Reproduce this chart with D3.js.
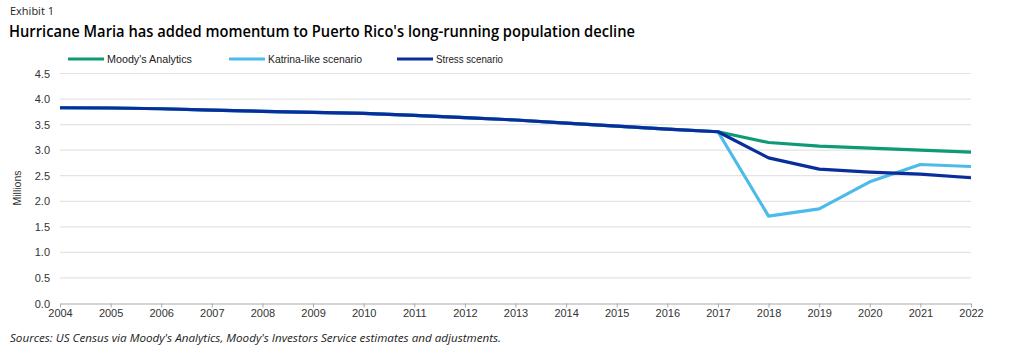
<!DOCTYPE html>
<html><head><meta charset="utf-8">
<script src="https://cdn.jsdelivr.net/npm/d3@7"></script>
<style>
html,body{margin:0;padding:0;background:#fff;}
svg{display:block;}
</style></head>
<body>
<svg id="c" width="1024" height="353"></svg>
<script>
const years = [2004,2005,2006,2007,2008,2009,2010,2011,2012,2013,2014,2015,2016,2017,2018,2019,2020,2021,2022];
const history = [3.83,3.825,3.81,3.785,3.76,3.74,3.72,3.68,3.635,3.59,3.53,3.47,3.41,3.36];
const moodys = [3.15,3.08,3.04,3.00,2.96];
const katrina = [1.71,1.85,2.38,2.72,2.68];
const stress = [2.85,2.63,2.57,2.53,2.46];
const yTicks = [0,0.5,1.0,1.5,2.0,2.5,3.0,3.5,4.0,4.5];
const seriesNames = ["Moody's Analytics","Katrina-like scenario","Stress scenario"];
const colors = ["#0e9a74","#4dbbea","#0a2d9c"];

const svg = d3.select("#c");
const x = d3.scaleLinear().domain([2004,2022]).range([60,971]);
const y = d3.scaleLinear().domain([0,4.5]).range([303.5,73.5]);

// titles
svg.append("text").attr("x",10).attr("y",15).attr("font-family","Open Sans, sans-serif").attr("font-size",11).attr("fill","#222").text("Exhibit 1");
svg.append("text").attr("x",9).attr("y",37).attr("font-family","Open Sans, sans-serif").attr("font-weight",600).attr("font-size",16)
  .attr("textLength",626).attr("lengthAdjust","spacingAndGlyphs").attr("fill","#000")
  .text("Hurricane Maria has added momentum to Puerto Rico's long-running population decline");

// grid
svg.append("g").selectAll("line").data(yTicks.filter(d=>d>0)).join("line")
  .attr("x1",60).attr("x2",971).attr("y1",d=>y(d)).attr("y2",d=>y(d))
  .attr("stroke","#e3e3e3").attr("stroke-width",1.2);

// y labels
svg.append("g").selectAll("text").data(yTicks).join("text")
  .attr("x",50).attr("y",d=>y(d)+4).attr("text-anchor","end")
  .attr("font-family","Liberation Sans, Arial, sans-serif").attr("font-size",11).attr("fill","#333")
  .text(d=>d3.format(".1f")(d));
svg.append("text").attr("transform","translate(21,"+188+") rotate(-90)").attr("text-anchor","middle")
  .attr("font-family","Liberation Sans, Arial, sans-serif").attr("font-size",10.5).attr("fill","#333").text("Millions");

// x axis
const xAxis = d3.axisBottom(x).tickValues(years).tickFormat(d3.format("d")).tickSize(4).tickSizeOuter(0);
const gx = svg.append("g").attr("transform","translate(0,"+y(0)+")").call(xAxis);
gx.select(".domain").attr("stroke","#aaa");
gx.selectAll(".tick line").attr("stroke","#aaa");
gx.selectAll("text").attr("font-family","Liberation Sans, Arial, sans-serif").attr("font-size",11).attr("fill","#333").attr("dy","0.55em");

// lines
const line = d3.line().x(d=>x(d[0])).y(d=>y(d[1]));
const hist = years.slice(0,history.length).map((yr,i)=>[yr,history[i]]);
const fut = years.slice(history.length);
const series = [moodys,katrina,stress].map(v=>hist.concat(fut.map((yr,i)=>[yr,v[i]])));
svg.append("g").selectAll("path").data(series).join("path")
  .attr("d",line).attr("fill","none").attr("stroke",(d,i)=>colors[i]).attr("stroke-width",3.2)
  .attr("stroke-linejoin","round");

// legend
const legX = [68,229,397];
const legW = [85,94,67];
seriesNames.forEach((n,i)=>{
  svg.append("line").attr("x1",legX[i]).attr("x2",legX[i]+36).attr("y1",59).attr("y2",59).attr("stroke",colors[i]).attr("stroke-width",3.2);
  svg.append("text").attr("x",legX[i]+39).attr("y",63).attr("font-family","Liberation Sans, Arial, sans-serif").attr("font-size",11)
    .attr("textLength",legW[i]).attr("lengthAdjust","spacingAndGlyphs").attr("fill","#222").text(n);
});

// source
svg.append("text").attr("x",10).attr("y",342).attr("font-family","Open Sans, sans-serif").attr("font-style","italic").attr("font-size",11.5)
  .attr("textLength",491).attr("lengthAdjust","spacingAndGlyphs").attr("fill","#222")
  .text("Sources: US Census via Moody's Analytics, Moody's Investors Service estimates and adjustments.");
</script>
</body></html>
